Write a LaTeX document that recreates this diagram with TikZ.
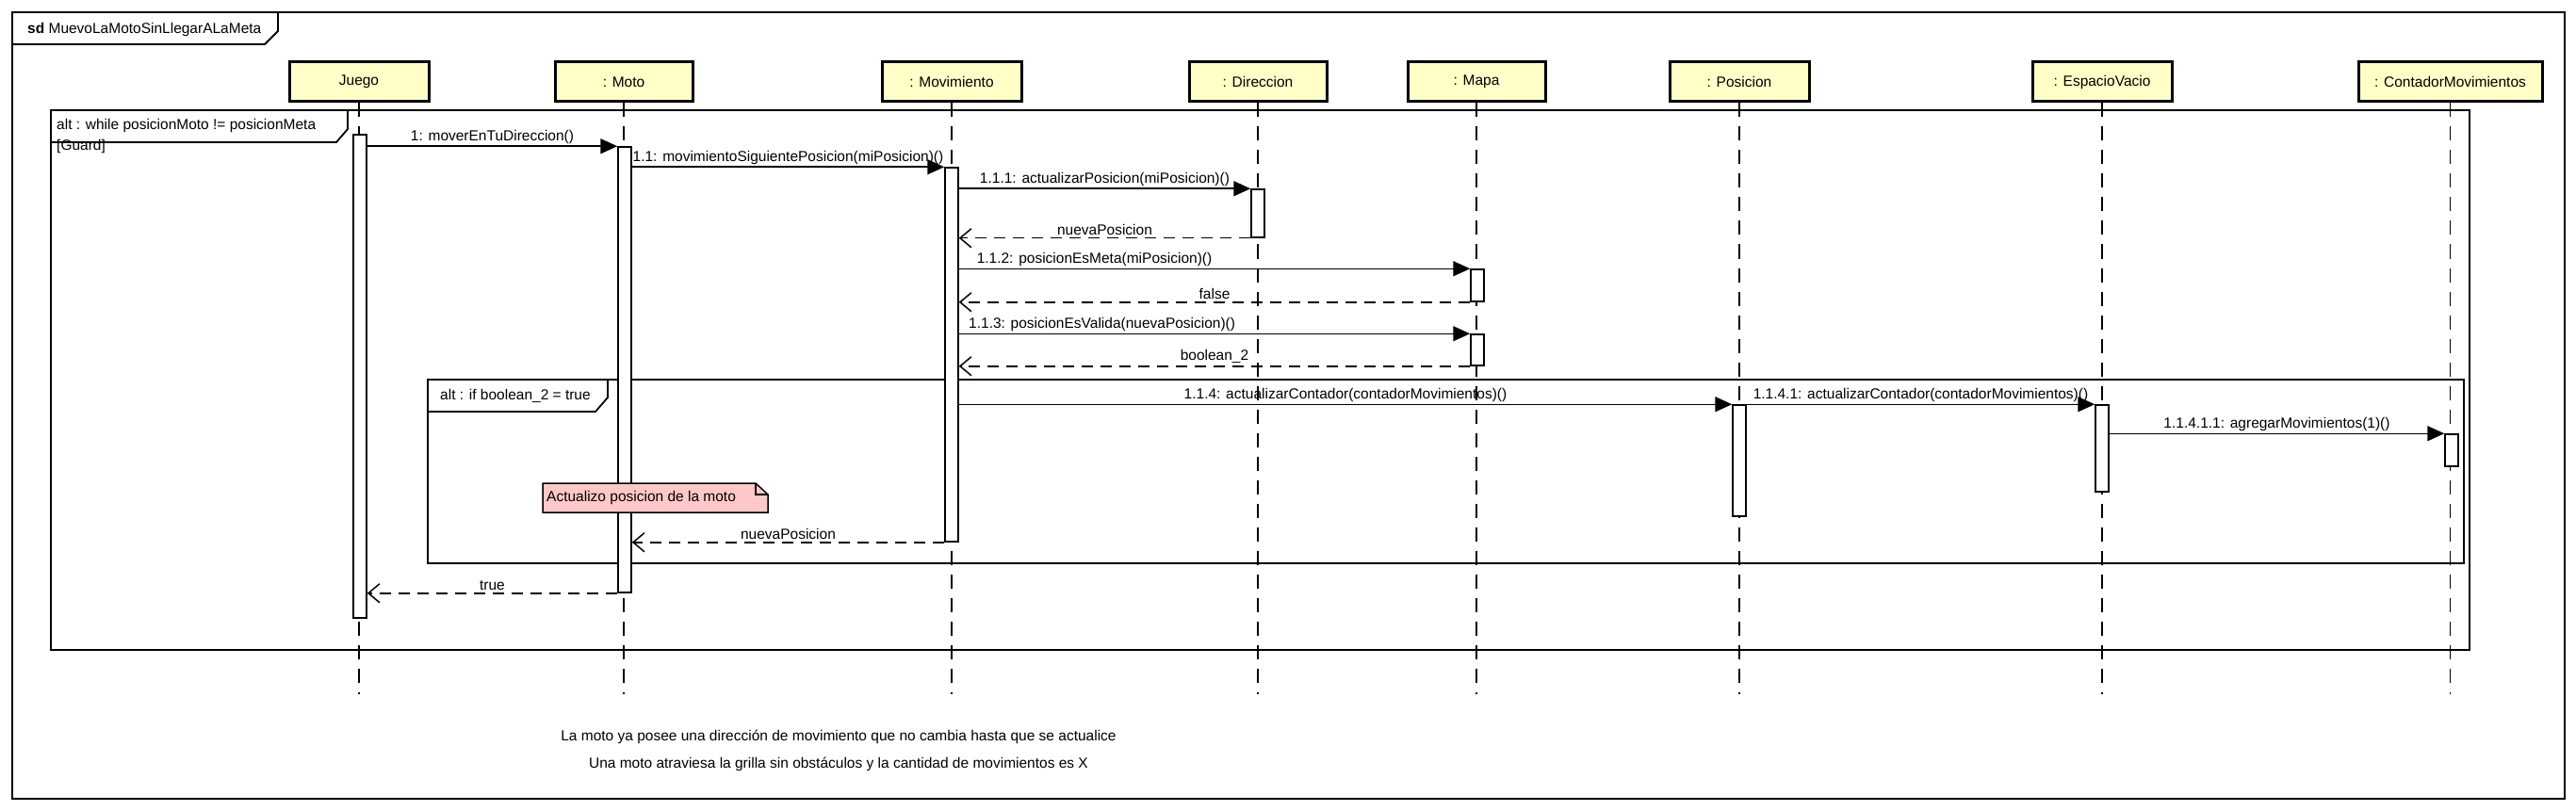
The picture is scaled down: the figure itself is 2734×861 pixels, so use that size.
\documentclass[tikz,border=0pt]{standalone}
\usepackage{fontspec}
\setmainfont{Liberation Sans}
\usetikzlibrary{arrows.meta}
\definecolor{headfill}{RGB}{255,255,200}
\definecolor{notefill}{RGB}{255,200,200}

\begin{document}
\begin{tikzpicture}[x=1pt,y=-1pt,
    font=\fontsize{15.5}{18}\selectfont,
    head/.style={draw,line width=3pt,fill=headfill,minimum width=148pt,minimum height=42pt,inner sep=0pt},
    life/.style={line width=1.5pt,dash pattern=on 15pt off 10pt},
    act/.style={draw,fill=white,line width=1.5pt,minimum width=14pt,inner sep=0pt},
    call/.style={line width=1.5pt,-{Triangle[length=18pt,width=16pt]}},
    reply/.style={line width=1.5pt,dash pattern=on 12pt off 8pt,-{Straight Barb[length=12pt,width=20pt]}},
    frame/.style={line width=1.8pt},
    lbl/.style={above,inner sep=2pt},
    notebox/.style={draw,fill=notefill,line width=1.5pt}]
    \useasboundingbox (0,0) rectangle (2734,861);
    \draw[frame] (13,13) rectangle (2722,848);
    \draw[frame] (13,47) -- (281,47) -- (295,33) -- (295,13);
    \node[anchor=west,inner sep=0pt] (titulo) at (29,31) {\textbf{sd} MuevoLaMotoSinLlegarALaMeta};
    \node[head] (hJuego) at (381,87) {Juego};
    \node[head,minimum width=146pt] (hMoto) at (662,87) {: Moto};
    \node[head] (hMov) at (1010,87) {: Movimiento};
    \node[head,minimum width=146pt] (hDir) at (1335,87) {: Direccion};
    \node[head,minimum width=146pt] (hMapa) at (1567,87) {: Mapa};
    \node[head] (hPos) at (1846,87) {: Posicion};
    \node[head] (hEsp) at (2231,87) {: EspacioVacio};
    \node[head,minimum width=195pt] (hCont) at (2600.5,87) {: ContadorMovimientos};
    \coordinate (fin) at (0,737);
    \draw[life] (hJuego.south) -- (hJuego.south |- fin);
    \draw[life] (hMoto.south) -- (hMoto.south |- fin);
    \draw[life] (hMov.south) -- (hMov.south |- fin);
    \draw[life] (hDir.south) -- (hDir.south |- fin);
    \draw[life] (hMapa.south) -- (hMapa.south |- fin);
    \draw[life] (hPos.south) -- (hPos.south |- fin);
    \draw[life] (hEsp.south) -- (hEsp.south |- fin);
    \draw[life] (hCont.south) -- (hCont.south |- fin);
    \draw[frame] (54,117) rectangle (2621,690);
    \draw[frame] (54,151) -- (357,151) -- (369,137) -- (369,117);
    \node[anchor=west,inner sep=0pt] (cond) at (60,133) {alt : while posicionMoto != posicionMeta};
    \node[anchor=west,inner sep=0pt] (guard) at (60,155) {[Guard]};
    \draw[frame] (454,403) rectangle (2615,598);
    \draw[frame] (454,437) -- (632,437) -- (645,422) -- (645,403);
    \node[anchor=west,inner sep=0pt] (condIf) at (467,420) {alt : if boolean\_2 = true};
    \node[act,minimum height=513pt] (aJuego) at (382,399.5) {};
    \node[act,minimum height=473pt] (aMoto) at (663,392.5) {};
    \node[act,minimum height=397pt] (aMov) at (1010,376.5) {};
    \node[act,minimum height=51pt] (aDir) at (1335,226.5) {};
    \node[act,minimum height=34pt] (aMapaA) at (1568,303) {};
    \node[act,minimum height=33pt] (aMapaB) at (1568,371.5) {};
    \node[act,minimum height=118pt] (aPos) at (1846,489) {};
    \node[act,minimum height=92pt] (aEsp) at (2231,476) {};
    \node[act,minimum height=34pt] (aCont) at (2602,478) {};
    \draw[call] (aJuego.east |- aMoto.north) -- (aMoto.north west) node[lbl,midway] {1: moverEnTuDireccion()};
    \draw[call] (aMoto.east |- aMov.north) -- (aMov.north west) node[lbl,midway] {1.1: movimientoSiguientePosicion(miPosicion)()};
    \draw[call] (aMov.east |- aDir.north) -- (aDir.north west) node[lbl,midway] {1.1.1: actualizarPosicion(miPosicion)()};
    \draw[reply] (aDir.south west) -- (aMov.east |- aDir.south) node[lbl,midway] {nuevaPosicion};
    \draw[call] (aMov.east |- aMapaA.north) -- (aMapaA.north west) node[lbl,pos=0.265] {1.1.2: posicionEsMeta(miPosicion)()};
    \draw[reply] (aMapaA.south west) -- (aMov.east |- aMapaA.south) node[lbl,midway] {false};
    \draw[call] (aMov.east |- aMapaB.north) -- (aMapaB.north west) node[lbl,pos=0.28] {1.1.3: posicionEsValida(nuevaPosicion)()};
    \draw[reply] (aMapaB.south west) -- (aMov.east |- aMapaB.south) node[lbl,midway] {boolean\_2};
    \draw[call] (aMov.east |- aPos.north) -- (aPos.north west) node[lbl,midway] {1.1.4: actualizarContador(contadorMovimientos)()};
    \draw[call] (aPos.east |- aEsp.north) -- (aEsp.north west) node[lbl,midway] {1.1.4.1: actualizarContador(contadorMovimientos)()};
    \draw[call] (aEsp.east |- aCont.north) -- (aCont.north west) node[lbl,midway] {1.1.4.1.1: agregarMovimientos(1)()};
    \draw[notebox] (576,513) -- (802,513) -- (815,525) -- (815,544) -- (576,544) -- cycle;
    \draw[line width=1.5pt] (802,513) -- (802,525) -- (815,525);
    \node[anchor=west,inner sep=0pt] (nota) at (580,528) {Actualizo posicion de la moto};
    \draw[reply] (aMov.south west) -- (aMoto.east |- aMov.south) node[lbl,midway] {nuevaPosicion};
    \draw[reply] (aMoto.south west) -- (aJuego.east |- aMoto.south) node[lbl,midway] {true};
    \node (texto1) at (890,782) {La moto ya posee una dirección de movimiento que no cambia hasta que se actualice};
    \node (texto2) at (890,811) {Una moto atraviesa la grilla sin obstáculos y la cantidad de movimientos es X};
\end{tikzpicture}
\end{document}
